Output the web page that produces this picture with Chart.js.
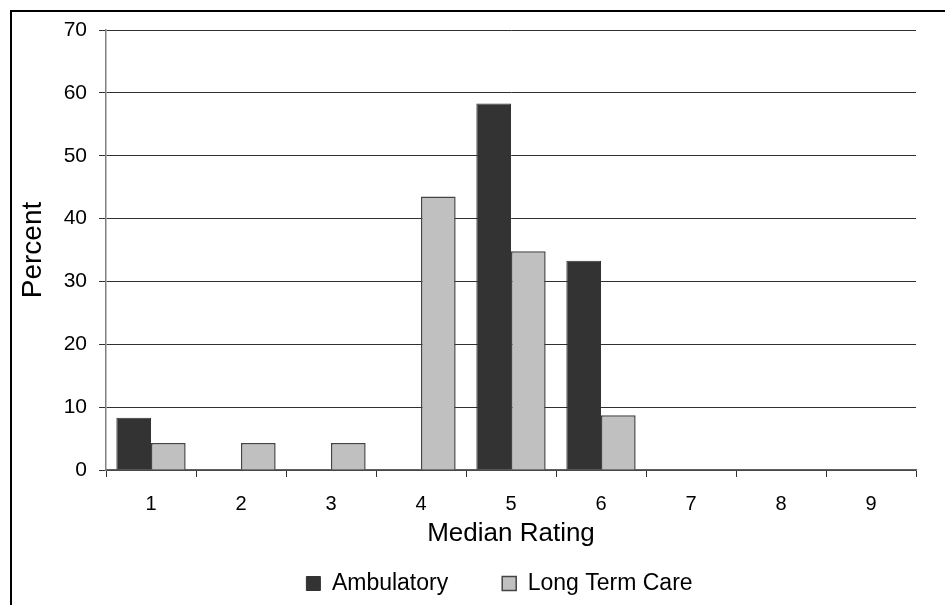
<!DOCTYPE html>
<html>
<head>
<meta charset="utf-8">
<script src="https://cdn.jsdelivr.net/npm/chart.js@4"></script>
<style>
    html, body { margin: 0; padding: 0; background: #ffffff; }
    #contenedor { position: relative; width: 945px; height: 605px; }
</style>
</head>
<body>
<div id="contenedor">
    <canvas id="graficoMedianas" width="945" height="605"></canvas>
</div>
<script>

const categorias = ["1", "2", "3", "4", "5", "6", "7", "8", "9"];

const ambulatorio = [8.3, 0, 0, 0, 58.3, 33.3, 0, 0, 0];

const cuidadoLargo = [4.3, 4.3, 4.3, 43.5, 34.8, 8.7, 0, 0, 0];

const ticksY = [0, 10, 20, 30, 40, 50, 60, 70];

// marco negro arriba e izquierda
const marco = {
    id: "marco",
    afterLayout(chart) {
        // la leyenda va algo corrida a la derecha
        chart.legend.left += 36;
        chart.legend.right += 36;
    },
    afterDraw(chart) {
        const ctx = chart.ctx;
        ctx.save();
        ctx.strokeStyle = "#000000";
        ctx.lineWidth = 2;
        ctx.beginPath();
        ctx.moveTo(11, 605);
        ctx.lineTo(11, 11);
        ctx.lineTo(945, 11);
        ctx.stroke();
        ctx.restore();
    }
};

Chart.defaults.font.family = "'Liberation Sans', Arial, sans-serif";
Chart.defaults.color = "#000000";

new Chart(

    document.getElementById(
        "graficoMedianas"
    ),

    {

        type: "bar",

        data: {

            labels: categorias,

            datasets: [

                {
                    label: "Ambulatory",
                    data: ambulatorio,
                    backgroundColor: "#333333",
                    borderColor: "#333333",
                    borderWidth: 1,
                    categoryPercentage: 0.77,
                    barPercentage: 1.0
                },

                {
                    label: "Long Term Care",
                    data: cuidadoLargo,
                    backgroundColor: "#c0c0c0",
                    borderColor: "#444444",
                    borderWidth: 1.5,
                    categoryPercentage: 0.77,
                    barPercentage: 1.0
                }

            ]

        },

        options: {

            responsive: false,
            animation: false,

            layout: {
                padding: { left: 11, right: 29, top: 30, bottom: 0 }
            },

            plugins: {
                tooltip: { enabled: false },
                legend: {
                    position: "bottom",
                    labels: {
                        font: { size: 23 },
                        boxWidth: 14,
                        boxHeight: 14,
                        padding: 54,
                        color: "#000000"
                    }
                }
            },

            scales: {

                x: {
                    afterFit(escala) {
                        escala.height = 48;
                    },
                    grid: {
                        offset: true,
                        drawOnChartArea: false,
                        tickLength: 7,
                        color: "#303030"
                    },
                    border: { color: "#606060", width: 1.5 },
                    ticks: {
                        font: { size: 20 },
                        padding: 15,
                        color: "#000000"
                    },
                    title: {
                        display: true,
                        text: "Median Rating",
                        font: { size: 26 },
                        padding: { top: 0, bottom: -31 },
                        color: "#000000"
                    }
                },

                y: {
                    min: 0,
                    max: 70,
                    afterFit(escala) {
                        escala.width = 95;
                    },
                    afterBuildTicks(escala) {
                        escala.ticks = ticksY.map(v => ({ value: v }));
                    },
                    grid: {
                        tickLength: 7,
                        color: "#303030"
                    },
                    border: { color: "#808080", width: 1.5 },
                    ticks: {
                        font: { size: 21 },
                        padding: 12,
                        color: "#000000"
                    },
                    title: {
                        display: true,
                        text: "Percent",
                        font: { size: 28 },
                        padding: { top: 5, bottom: 0 },
                        color: "#000000"
                    }
                }

            }

        },

        plugins: [marco]

    }

);

</script>
</body>
</html>
